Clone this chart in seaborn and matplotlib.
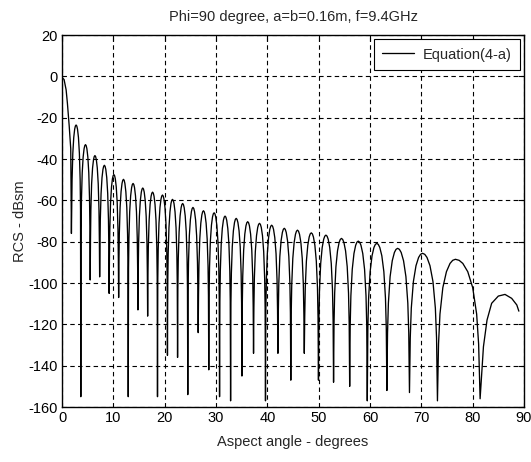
import matplotlib
matplotlib.use("Agg")
import matplotlib.pyplot as plt
import pandas as pd
import seaborn as sns

# Main lobe around normal incidence (deg, dBsm)
main_deg = [0.0, 0.4, 0.8, 1.05, 1.4, 1.7]
main_db = [-0.5, -1.5, -6.5, -13.0, -24.0, -35.0]

# Null positions and the depth each null reaches
null_deg = [1.83, 3.66, 5.49, 7.33, 9.18, 11.03, 12.90, 14.79, 16.68, 18.60,
            20.54, 22.51, 24.50, 26.53, 28.59, 30.69, 32.84, 35.05, 37.31, 39.64,
            42.06, 44.57, 47.20, 49.96, 52.90, 56.04, 59.47, 63.29, 67.69, 73.14,
            81.45]
null_db = [-76, -155, -98.5, -97, -105, -107, -155, -113, -116, -155,
           -135, -136, -154, -124, -142, -155, -157, -145, -134, -157,
           -134, -147, -134, -147, -148, -150, -157, -152, -153, -157,
           -156]

# Sidelobe maxima between consecutive nulls
peak_deg = [2.74, 4.57, 6.41, 8.25, 10.10, 11.97, 13.84, 15.73, 17.64, 19.57,
            21.52, 23.50, 25.51, 27.55, 29.63, 31.76, 33.93, 36.17, 38.47, 40.84,
            43.30, 45.87, 48.56, 51.41, 54.44, 57.71, 61.32, 65.38, 70.23, 76.64]
peak_db = [-23.5, -33.0, -38.3, -43.0, -47.5, -49.8, -51.8, -54.0, -56.0, -57.4,
           -59.5, -61.5, -63.4, -65.0, -66.0, -67.6, -68.7, -70.3, -71.1, -72.0,
           -73.5, -74.4, -75.7, -76.8, -78.4, -79.7, -80.8, -83.2, -85.6, -88.5]

# Last lobe towards grazing incidence
tail_deg = [82.1, 82.8, 83.7, 85.0, 86.3, 87.6, 88.6, 89.0]
tail_db = [-130.8, -117.9, -109.8, -106.3, -105.5, -107.4, -110.6, -113.6]

# Sidelobe outline: share of the null-to-maximum span and level below the maximum
shoulder_frac = [0.06, 0.14, 0.3, 0.5, 0.7, 0.85]
shoulder_drop = [-41.0, -26.5, -13.7, -6.0, -2.0, -0.5]

angle = list(main_deg)
rcs = list(main_db)
for k in range(len(peak_deg)):
    x0, x1, xp, yp = null_deg[k], null_deg[k + 1], peak_deg[k], peak_db[k]
    angle.append(x0)
    rcs.append(null_db[k])
    for f, d in zip(shoulder_frac, shoulder_drop):
        angle.append(x0 + f * (xp - x0))
        rcs.append(yp + d)
    angle.append(xp)
    rcs.append(yp)
    for f, d in zip(reversed(shoulder_frac), reversed(shoulder_drop)):
        angle.append(x1 - f * (x1 - xp))
        rcs.append(yp + d)
angle.append(null_deg[-1])
rcs.append(null_db[-1])
angle += tail_deg
rcs += tail_db

df = pd.DataFrame({"angle": angle, "rcs": rcs})

sns.set_style("white")
plt.rcParams["font.family"] = ["Liberation Sans", "DejaVu Sans"]
plt.rcParams["font.size"] = 10
plt.rcParams["axes.unicode_minus"] = False

fig = plt.figure(figsize=(5.31, 4.62), dpi=100)
ax = fig.add_axes([0.1168, 0.119, 0.870, 0.805])

sns.lineplot(data=df, x="angle", y="rcs", ax=ax, color="black", lw=0.95,
             estimator=None, sort=False, label="Equation(4-a)")

ax.set_xlim(0, 90)
ax.set_ylim(-160, 20)
ax.set_xticks(range(0, 91, 10))
ax.set_yticks(range(-160, 21, 20))
ax.grid(True, color="black", lw=0.8, ls=(0, (4, 3)))
ax.tick_params(direction="in", length=4, width=0.8, top=True, right=True,
               labelsize=10.5, colors="black", pad=3)
for s in ax.spines.values():
    s.set_color("black")
    s.set_linewidth(1.0)

ax.set_title("Phi=90 degree, a=b=0.16m, f=9.4GHz", fontsize=10.5, pad=10)
ax.set_xlabel("Aspect angle - degrees", fontsize=10.5, labelpad=7)
ax.set_ylabel("RCS - dBsm", fontsize=10.5, labelpad=1)

leg = ax.legend(loc="upper right", fontsize=10.5, frameon=True, fancybox=False,
                framealpha=1, edgecolor="black", borderaxespad=0.3,
                handlelength=2.2, borderpad=0.55, handletextpad=0.6)
leg.get_frame().set_linewidth(0.8)

fig.savefig("out.png", dpi=100, facecolor="white")
